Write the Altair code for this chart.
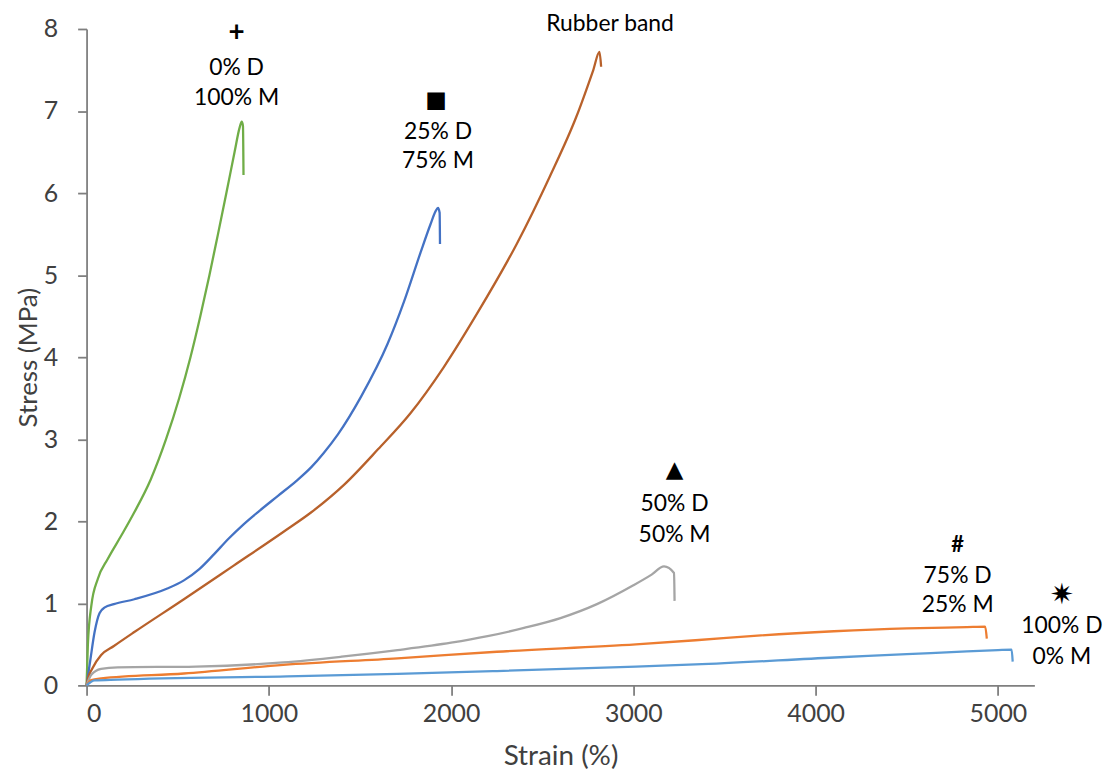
import altair as alt
import pandas as pd

# ---- data ----
green_x = [0, 7, 26, 62, 116, 189, 262, 352, 436, 508, 570, 624, 674, 721, 767, 812, 840, 851, 858, 861]
green_y = [0, 0.49, 0.97, 1.30, 1.54, 1.82, 2.11, 2.51, 3.0, 3.5, 4.0, 4.5, 5.0, 5.5, 6.0, 6.5, 6.8, 6.87, 6.82, 6.22]

blue_x = [0, 20, 44, 71, 100, 150, 262, 443, 534, 620, 700, 780, 860, 950, 1050, 1150, 1233, 1300, 1379, 1506, 1651, 1742, 1833, 1887, 1915, 1928, 1937, 1939]
blue_y = [0, 0.3, 0.65, 0.88, 0.95, 0.99, 1.05, 1.18, 1.28, 1.42, 1.60, 1.79, 1.96, 2.13, 2.31, 2.49, 2.66, 2.83, 3.06, 3.52, 4.16, 4.68, 5.28, 5.62, 5.78, 5.82, 5.76, 5.38]

rubber_x = [0, 7, 30, 80, 150, 262, 534, 807, 1079, 1233, 1415, 1600, 1778, 1960, 2142, 2360, 2541, 2687, 2780, 2814, 2823]
rubber_y = [0, 0.08, 0.2, 0.37, 0.48, 0.65, 1.05, 1.46, 1.87, 2.11, 2.45, 2.88, 3.32, 3.88, 4.53, 5.38, 6.20, 6.93, 7.50, 7.72, 7.54]

gray_x = [0, 26, 80, 171, 600, 1079, 1400, 1706, 2000, 2200, 2400, 2600, 2800, 3000, 3100, 3168, 3223, 3226]
gray_y = [0, 0.13, 0.20, 0.22, 0.23, 0.28, 0.35, 0.43, 0.52, 0.60, 0.70, 0.82, 0.99, 1.22, 1.35, 1.45, 1.37, 1.03]

orange_x = [0, 26, 80, 534, 1079, 1706, 2251, 3014, 3341, 3700, 4100, 4500, 4830, 4930, 4939]
orange_y = [0, 0.065, 0.085, 0.145, 0.25, 0.33, 0.41, 0.50, 0.55, 0.61, 0.66, 0.695, 0.71, 0.715, 0.57]

lblue_x = [0, 44, 171, 1100, 1706, 2251, 3014, 3341, 4104, 4500, 4830, 5000, 5075, 5081]
lblue_y = [0, 0.06, 0.07, 0.11, 0.14, 0.175, 0.23, 0.255, 0.34, 0.38, 0.415, 0.43, 0.435, 0.29]

series_names = ["0% D 100% M", "25% D 75% M", "Rubber band", "50% D 50% M", "75% D 25% M", "100% D 0% M"]
series_colors = ["#70ad47", "#4472c4", "#b8612b", "#a5a5a5", "#ed7d31", "#5b9bd5"]

label_text = ["+", "0% D", "100% M",
              "■", "25% D", "75% M",
              "Rubber band",
              "▲", "50% D", "50% M",
              "#", "75% D", "25% M",
              "✷", "100% D", "0% M"]
label_x = [823, 823, 823,
           1918, 1928, 1928,
           2872,
           3226, 3226, 3226,
           4779, 4779, 4779,
           5351, 5351, 5351]
label_y = [7.95, 7.52, 7.16,
           7.13, 6.74, 6.39,
           8.06,
           2.63, 2.21, 1.83,
           1.71, 1.33, 0.98,
           1.10, 0.72, 0.34]
label_size = [28, 23, 23,
              23, 23, 23,
              23,
              23, 23, 23,
              22, 23, 23,
              29, 23, 23]
label_kind = ["bold", "text", "text",
              "sym", "text", "text",
              "text",
              "sym", "text", "text",
              "bold", "text", "text",
              "sym", "text", "text"]

x_ticks = [0, 1000, 2000, 3000, 4000, 5000]
y_ticks = [0, 1, 2, 3, 4, 5, 6, 7, 8]

# ---- build tables ----
rows = []
for name, xs, ys in zip(series_names,
                        [green_x, blue_x, rubber_x, gray_x, orange_x, lblue_x],
                        [green_y, blue_y, rubber_y, gray_y, orange_y, lblue_y]):
    for i, (a, b) in enumerate(zip(xs, ys)):
        rows.append({"series": name, "strain": a, "stress": b, "idx": i})
df = pd.DataFrame(rows)

lab = pd.DataFrame({"text": label_text, "x": label_x, "y": label_y,
                    "fs": label_size, "kind": label_kind})

FONT = "Lato"
AXIS_COLOR = "#7f7f7f"
TEXT_COLOR = "#404040"

xscale = alt.Scale(domain=[0, 5200], nice=False, zero=False)
yscale = alt.Scale(domain=[0, 8], nice=False)

lines = alt.Chart(df).mark_line(strokeWidth=2.3, interpolate="monotone").encode(
    x=alt.X("strain:Q", scale=xscale,
            axis=alt.Axis(title="Strain (%)", values=x_ticks, grid=False, format="d",
                          domainColor=AXIS_COLOR, domainWidth=1.8, tickColor=AXIS_COLOR,
                          tickWidth=1.8, tickSize=10, labelFontSize=25, labelFont=FONT,
                          labelColor=TEXT_COLOR, labelPadding=6, titleFont=FONT,
                          titleFontSize=28, titleFontWeight="normal", titleColor=TEXT_COLOR,
                          titlePadding=17)),
    y=alt.Y("stress:Q", scale=yscale,
            axis=alt.Axis(title="Stress (MPa)", values=y_ticks, grid=False, format="d",
                          domainColor=AXIS_COLOR, domainWidth=1.8, tickColor=AXIS_COLOR,
                          tickWidth=1.8, tickSize=9, labelFontSize=25, labelFont=FONT,
                          labelColor=TEXT_COLOR, labelPadding=20, titleFont=FONT,
                          titleFontSize=26, titleFontWeight="normal", titleColor=TEXT_COLOR,
                          titlePadding=2)),
    color=alt.Color("series:N", scale=alt.Scale(domain=series_names, range=series_colors),
                    legend=None),
    order="idx:Q",
    detail="series:N",
)


def text_layer(kind, font, weight):
    return alt.Chart(lab).transform_filter(f"datum.kind == '{kind}'").mark_text(
        font=font, fontWeight=weight, color="#000000", align="center", baseline="middle"
    ).encode(x=alt.X("x:Q", scale=xscale), y=alt.Y("y:Q", scale=yscale), text="text:N",
             size=alt.Size("fs:Q", scale=None, legend=None))


chart = alt.layer(
    lines,
    text_layer("text", FONT, "normal"),
    text_layer("bold", FONT, "bold"),
    text_layer("sym", "DejaVu Sans", "normal"),
).properties(
    width=953, height=660,
    background="#ffffff",
    autosize=alt.AutoSizeParams(type="none"),
    padding={"left": 79, "top": 19, "right": 70, "bottom": 88},
).configure_view(strokeWidth=0)

chart.save("out.html", embed_options={"renderer": "svg", "actions": False})
